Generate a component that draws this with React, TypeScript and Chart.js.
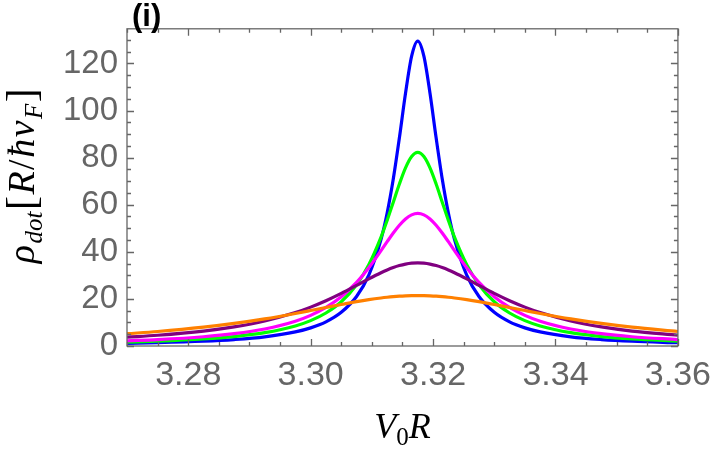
import { useEffect, useRef } from "react"
import { Chart, registerables } from "chart.js"

Chart.register(...registerables)

// V0R sample points (denser round the resonance)
const voR = [
  3.27, 3.275, 3.2825, 3.2875, 3.2925, 3.2975, 3.3, 3.3025, 3.305, 3.3075, 3.3095, 3.3115,
  3.3125, 3.3135, 3.3145, 3.3155, 3.3165, 3.3175, 3.3185, 3.3195, 3.3205, 3.3215, 3.3225,
  3.3235, 3.3255, 3.3275, 3.33, 3.3325, 3.335, 3.3375, 3.3425, 3.3475, 3.3525, 3.36,
]

const blue = [
  1.1, 1.37, 2.01, 2.73, 3.89, 5.98, 7.7, 10.26, 14.3, 21.0, 30.1, 45.3, 56.5, 70.9, 88.4,
  107.3, 123.1, 129.5, 123.1, 107.3, 88.4, 70.9, 56.5, 45.3, 30.1, 21.0, 14.3, 10.26, 7.7,
  5.98, 3.89, 2.73, 2.01, 1.37,
]

const green = [
  1.65, 2.05, 2.99, 4.02, 5.66, 8.52, 10.78, 14.01, 18.77, 25.99, 34.48, 46.22, 53.35, 61.07,
  68.81, 75.66, 80.46, 82.2, 80.46, 75.66, 68.81, 61.07, 53.35, 46.22, 34.48, 25.99, 18.77,
  14.01, 10.78, 8.52, 5.66, 4.02, 2.99, 2.05,
]

const magenta = [
  2.21, 2.73, 3.94, 5.23, 7.23, 10.54, 13.02, 16.36, 20.89, 27.0, 33.23, 40.49, 44.29, 47.97,
  51.29, 53.96, 55.7, 56.3, 55.7, 53.96, 51.29, 47.97, 44.29, 40.49, 33.23, 27.0, 20.89, 16.36,
  13.02, 10.54, 7.23, 5.23, 3.94, 2.73,
]

const purple = [
  3.76, 4.57, 6.35, 8.12, 10.62, 14.19, 16.51, 19.22, 22.33, 25.73, 28.51, 31.13, 32.3, 33.32,
  34.16, 34.78, 35.17, 35.3, 35.17, 34.78, 34.16, 33.32, 32.3, 31.13, 28.51, 25.73, 22.33,
  19.22, 16.51, 14.19, 10.62, 8.12, 6.35, 4.57,
]

const orange = [
  5.23, 6.15, 7.98, 9.58, 11.52, 13.82, 15.07, 16.35, 17.62, 18.82, 19.67, 20.39, 20.69, 20.94,
  21.14, 21.28, 21.37, 21.4, 21.37, 21.28, 21.14, 20.94, 20.69, 20.39, 19.67, 18.82, 17.62,
  16.35, 15.07, 13.82, 11.52, 9.58, 7.98, 6.15,
]

const xTicks = [3.28, 3.3, 3.32, 3.34, 3.36]
const yTicks = [0, 20, 40, 60, 80, 100, 120]

const GRAY = "#666666"
const SANS = "'Liberation Sans', Arial, sans-serif"
const SERIF = "'Liberation Serif', 'DejaVu Serif', serif"

// frame with inward ticks on all four sides, plus the axis titles
const framePlugin = {
  id: "frame",
  afterDraw(chart: any) {
    const { ctx, chartArea: a, scales } = chart
    const x = scales.x
    const y = scales.y
    ctx.save()
    ctx.strokeStyle = GRAY
    ctx.lineWidth = 1.3
    ctx.strokeRect(a.left, a.top, a.right - a.left, a.bottom - a.top)

    ctx.beginPath()
    for (let v = 3.27; v <= 3.3601; v += 0.005) {
      const px = Math.round(x.getPixelForValue(v)) + 0.5
      const major = xTicks.some((t) => Math.abs(t - v) < 1e-6)
      const len = major ? 7 : 4
      ctx.moveTo(px, a.bottom)
      ctx.lineTo(px, a.bottom - len)
      ctx.moveTo(px, a.top)
      ctx.lineTo(px, a.top + len)
    }
    for (let v = 0; v <= y.max; v += 5) {
      const py = Math.round(y.getPixelForValue(v)) + 0.5
      const major = yTicks.includes(v)
      const len = major ? 7 : 4
      ctx.moveTo(a.left, py)
      ctx.lineTo(a.left + len, py)
      ctx.moveTo(a.right, py)
      ctx.lineTo(a.right - len, py)
    }
    ctx.stroke()

    // panel label
    ctx.fillStyle = "#000"
    ctx.font = `bold 31px ${SANS}`
    ctx.textAlign = "left"
    ctx.textBaseline = "alphabetic"
    ctx.fillText("(i)", a.left + 5, 26)

    // x title: V_0 R
    const big = `italic 36px ${SERIF}`
    const sub = `25px ${SERIF}`
    ctx.font = big
    const wV = ctx.measureText("V").width
    const wR = ctx.measureText("R").width
    ctx.font = sub
    const w0 = ctx.measureText("0").width
    const total = wV + w0 + wR
    let cx = (a.left + a.right) / 2 - total / 2
    const base = 438
    ctx.font = big
    ctx.fillText("V", cx, base)
    cx += wV
    ctx.font = sub
    ctx.fillText("0", cx, base + 7)
    cx += w0
    ctx.font = big
    ctx.fillText("R", cx, base)

    // y title: rho_dot [R / hbar v_F]
    const parts: [string, string, number][] = [
      ["ρ", `italic 38px ${SERIF}`, 0],
      ["dot", `italic 25px ${SERIF}`, 8],
      ["[", `42px ${SERIF}`, 1],
      ["R", `italic 38px ${SERIF}`, 0],
      ["/", `38px ${SERIF}`, 0],
      ["ħ", `italic 38px ${SERIF}`, 0],
      ["v", `italic 38px ${SERIF}`, 0],
      ["F", `italic 25px ${SERIF}`, 8],
      ["]", `42px ${SERIF}`, 1],
    ]
    const widths = parts.map(([t, f]) => {
      ctx.font = f
      return ctx.measureText(t).width + 1.5
    })
    const tw = widths.reduce((s, w) => s + w, 0)
    ctx.translate(34, 175)
    ctx.rotate(-Math.PI / 2)
    let tx = -tw / 2
    parts.forEach(([t, f, dy], i) => {
      ctx.font = f
      ctx.fillText(t, tx, dy)
      tx += widths[i]
    })
    ctx.restore()
  },
}

export default function App() {
  const chartRef = useRef<HTMLCanvasElement>(null)
  const chartInstance = useRef<Chart | null>(null)

  useEffect(() => {
    if (!chartRef.current) return
    document.body.style.margin = "0"

    if (chartInstance.current) {
      chartInstance.current.destroy()
    }

    const series = [
      { data: blue, color: "#0000ff", order: 4 },
      { data: green, color: "#00ff00", order: 3 },
      { data: magenta, color: "#ff00ff", order: 2 },
      { data: purple, color: "#800080", order: 1 },
      { data: orange, color: "#ff8000", order: 0 },
    ]

    const ctx = chartRef.current.getContext("2d")
    if (ctx) {
      chartInstance.current = new Chart(ctx, {
        type: "line",
        data: {
          datasets: series.map((s) => ({
            data: voR.map((v, i) => ({ x: v, y: s.data[i] })),
            borderColor: s.color,
            borderWidth: 3.2,
            pointRadius: 0,
            fill: false,
            cubicInterpolationMode: "monotone" as const,
            order: s.order,
          })),
        },
        options: {
          responsive: false,
          animation: false,
          layout: { padding: { top: 2, right: 35, left: 0, bottom: 0 } },
          plugins: {
            legend: { display: false },
            tooltip: { enabled: false },
          },
          scales: {
            x: {
              type: "linear",
              min: 3.27,
              max: 3.36,
              grid: { display: false, drawTicks: false },
              border: { display: false },
              afterBuildTicks: (scale: any) => {
                scale.ticks = xTicks.map((v) => ({ value: v }))
              },
              afterFit: (scale: any) => {
                scale.height = 108
              },
              ticks: {
                padding: 9,
                color: GRAY,
                font: { family: SANS, size: 34 },
                maxRotation: 0,
                callback: (v: any) => Number(v).toFixed(2),
              },
            },
            y: {
              type: "linear",
              min: 0,
              max: 134.7,
              grid: { display: false, drawTicks: false },
              border: { display: false },
              afterBuildTicks: (scale: any) => {
                scale.ticks = yTicks.map((v) => ({ value: v }))
              },
              afterFit: (scale: any) => {
                scale.width = 127
              },
              ticks: {
                padding: 9,
                color: GRAY,
                font: { family: SANS, size: 33 },
              },
            },
          },
        },
        plugins: [framePlugin],
      })
    }

    return () => {
      if (chartInstance.current) {
        chartInstance.current.destroy()
        chartInstance.current = null
      }
    }
  }, [])

  return <canvas ref={chartRef} width={720} height={454} />
}
